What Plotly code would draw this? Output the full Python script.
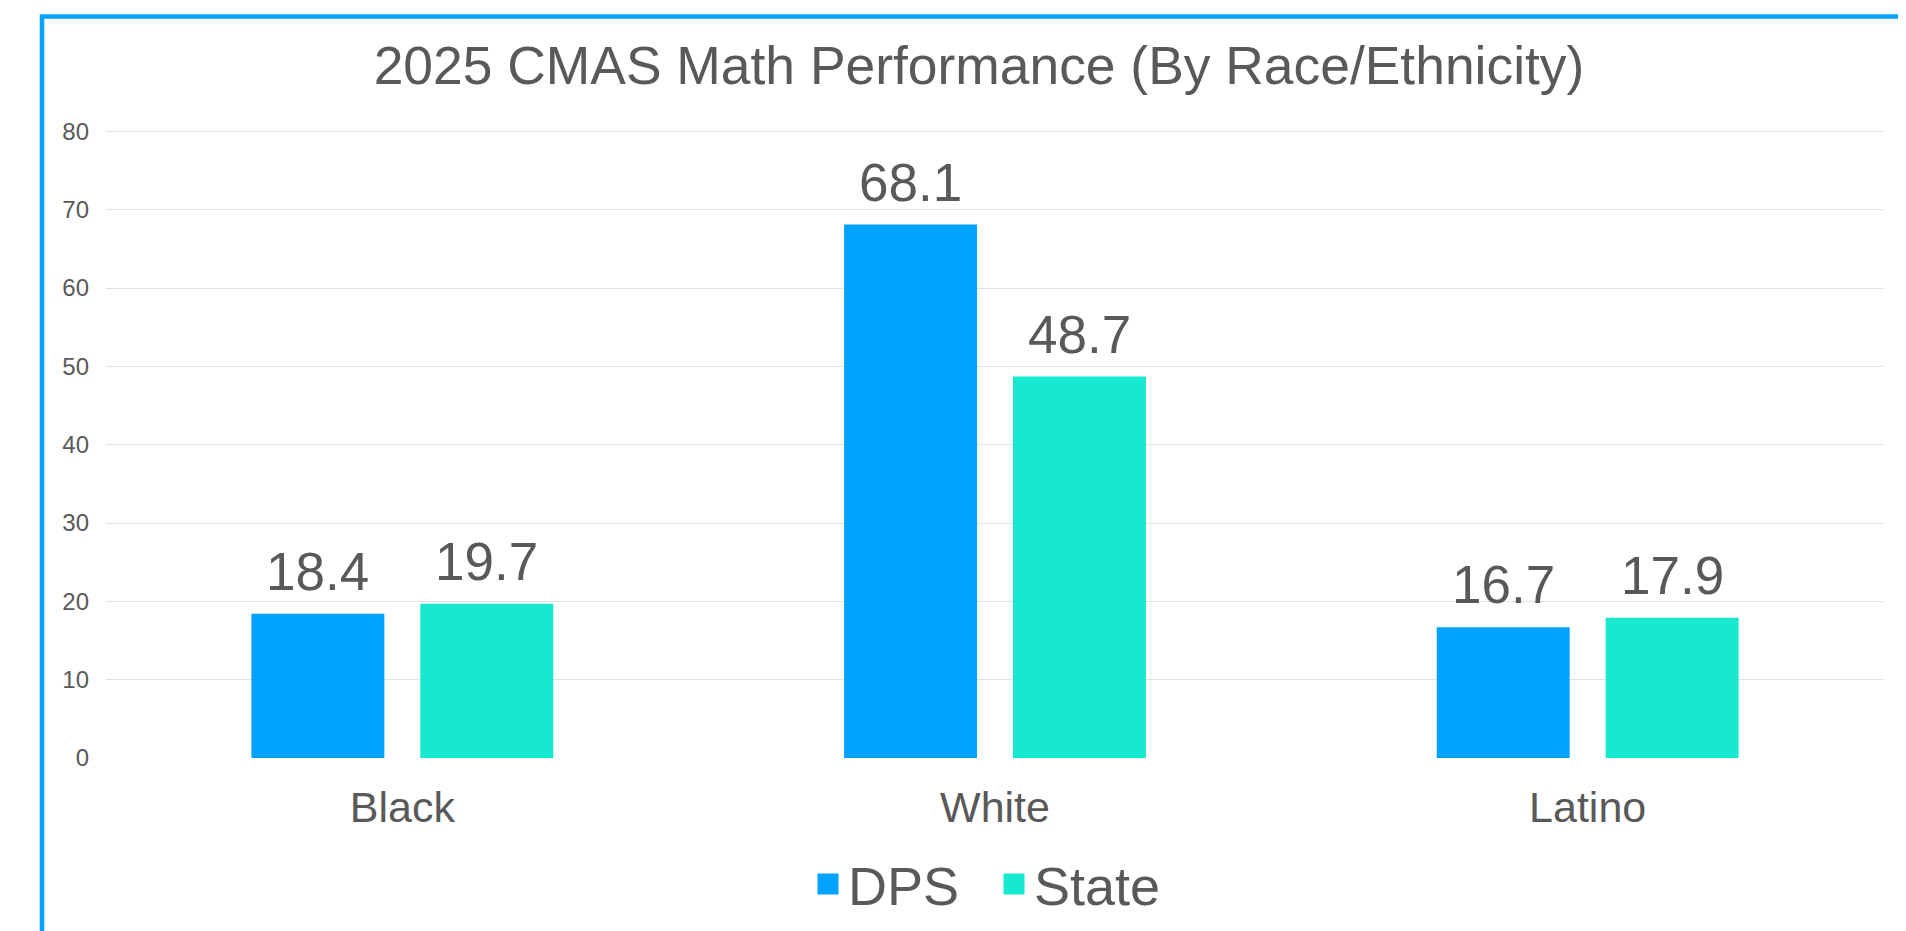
import plotly.graph_objects as go

# ---- data ----
categories = ["Black", "White", "Latino"]
dps_values = [18.4, 68.1, 16.7]
state_values = [19.7, 48.7, 17.9]
series_names = ["DPS", "State"]
y_tick_values = [0, 10, 20, 30, 40, 50, 60, 70, 80]
title_text = "2025 CMAS Math Performance (By Race/Ethnicity)"

# ---- style / layout (page pixels; page body has an 8px margin) ----
OFF = 8
W, H = 1906 - OFF, 931 - OFF
Y_MAX = 80.3
PX_PER_UNIT = (758 - 131) / 80.0
ML = 106 - OFF
MR = 1906 - 1884
MB = 931 - 758
PH = PX_PER_UNIT * Y_MAX
MT = H - MB - PH
PW = W - ML - MR
BARGAP = 0.43
BARGROUPGAP = 0.213
C_DPS = "#00A3FF"
C_STATE = "#17E9D1"
TXT = "#595959"
FONT = "Liberation Sans, Arial, sans-serif"


def px_x(page_px):
    return (page_px - OFF - ML) / PW


def px_y(page_py):
    return (H - MB - (page_py - OFF)) / PH


fig = go.Figure()
series = [(series_names[0], dps_values, C_DPS), (series_names[1], state_values, C_STATE)]
for name, vals, col in series:
    fig.add_trace(go.Bar(
        x=categories, y=vals, name=name,
        marker=dict(color=col, line=dict(width=0)),
        showlegend=False, hoverinfo="x+y+name",
    ))
    # legend entry (square symbol)
    fig.add_trace(go.Scatter(
        x=[None], y=[None], mode="markers", name=name,
        marker=dict(symbol="square", size=16, color=col, line=dict(width=5, color=col)),
        showlegend=True,
    ))

# value labels above bars, positioned through the category axis
cat_w = PW / len(categories)
slot = cat_w * (1 - BARGAP) / len(series)
annotations = []
for si, (name, vals, col) in enumerate(series):
    shift = (si - (len(series) - 1) / 2) * slot
    for cat, v in zip(categories, vals):
        annotations.append(dict(
            x=cat, y=v, xref="x", yref="y", text=f"{v:.1f}", showarrow=False,
            xanchor="center", yanchor="bottom", xshift=shift, yshift=11,
            font=dict(size=53, color=TXT, family=FONT),
        ))

fig.update_layout(
    width=W, height=H,
    margin=dict(l=ML, r=MR, t=MT, b=MB, autoexpand=False),
    paper_bgcolor="white", plot_bgcolor="white",
    font=dict(family=FONT, color=TXT),
    barmode="group", bargap=BARGAP, bargroupgap=BARGROUPGAP,
    title=dict(text=title_text, font=dict(size=53.4, color=TXT, family=FONT),
               x=px_x(979), xref="paper", xanchor="center",
               y=1 - 57 / H, yref="container", yanchor="middle"),
    xaxis=dict(showgrid=False, showline=False, zeroline=False, ticks="",
               tickfont=dict(size=43, color=TXT, family=FONT), ticklabelstandoff=20),
    yaxis=dict(range=[0, Y_MAX], tickvals=y_tick_values, showgrid=True, gridcolor="#E2E2E2", gridwidth=1.4,
               zeroline=False, showline=False, ticks="",
               tickfont=dict(size=24, color=TXT, family=FONT), ticklabelstandoff=16),
    legend=dict(orientation="h", x=px_x(800 + OFF), xanchor="left", y=px_y(876.5 + OFF), yanchor="middle",
                font=dict(size=54, color=TXT, family=FONT), bgcolor="rgba(0,0,0,0)",
                entrywidth=141, entrywidthmode="pixels",
                itemclick=False, itemdoubleclick=False),
    annotations=annotations,
    shapes=[dict(type="rect", xref="paper", yref="paper",
                 x0=px_x(42), x1=px_x(1960), y0=px_y(990), y1=px_y(16),
                 line=dict(color=C_DPS, width=4.5), fillcolor="rgba(0,0,0,0)", layer="above")],
)

fig.write_html("out.html")
